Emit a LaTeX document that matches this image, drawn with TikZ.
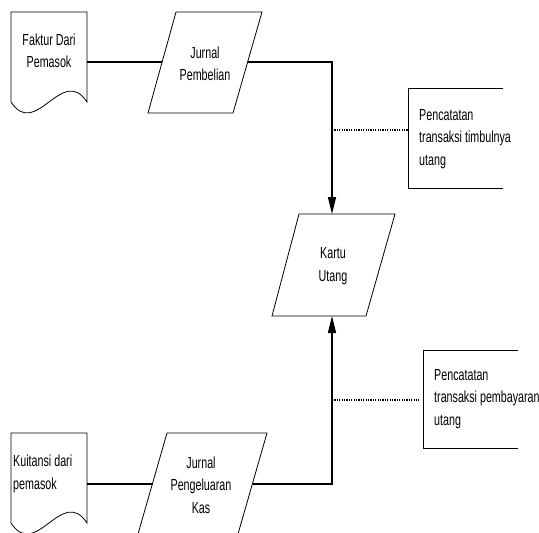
\documentclass[tikz,border=0pt]{standalone}
\usepackage{fontspec}
\setmainfont{Liberation Sans}[FakeStretch=0.67]
\usetikzlibrary{arrows.meta}
\tikzset{
  shapeline/.style={draw=black, line width=0.8pt},
  conn/.style={draw=black, line width=1.6pt},
  arrowconn/.style={conn, -{Triangle[length=17pt,width=8pt]}},
  dotline/.style={draw=black, line width=1.3pt, dash pattern=on 1.2pt off 1.2pt},
  bracket/.style={draw=black, line width=0.8pt},
  lbl/.style={inner sep=0pt, font=\fontsize{16}{22.5}\selectfont},
  docpic/.pic={
    \draw[shapeline, fill=white] (0,90) -- (0,0) -- (76,0) -- (76,90)
      .. controls (51,52) and (25,128) .. (0,90) -- cycle;
  }
}
\begin{document}
\begin{tikzpicture}[x=1pt,y=-1pt]
\useasboundingbox (0,0) rectangle (539,533);
\fill[white] (0,0) rectangle (539,533);
\clip (0,0) rectangle (539,533);

% documents
\pic at (11,12) {docpic};
\pic at (11,433) {docpic};
\node[lbl, align=center] (faktur) at (49,51) {Faktur Dari\\Pemasok};
\node[lbl, align=left, anchor=west] (kuitansi) at (13,474) {Kuitansi dari\\pemasok};
\coordinate (faktur-out) at (87,62);
\coordinate (kuitansi-out) at (87,484);

% parallelograms
\draw[shapeline] (176,12) -- (262,12) -- (233,113) -- (148,113) -- cycle;
\node[lbl, align=center] (jpemb) at (205,64) {Jurnal\\Pembelian};
\coordinate (jpemb-in) at (162,62);
\coordinate (jpemb-out) at (248,62);

\draw[shapeline] (299,214) -- (395,214) -- (366,316) -- (272,316) -- cycle;
\node[lbl, align=center] (kartu) at (333,266) {Kartu\\Utang};
\coordinate (kartu-top) at (332,214);
\coordinate (kartu-bot) at (332,316);

\draw[shapeline] (167,433) -- (267,433) -- (238,534) -- (138,534) -- cycle;
\node[lbl, align=center] (jpk) at (201,485) {Jurnal\\Pengeluaran\\Kas};
\coordinate (jpk-in) at (153,484);
\coordinate (jpk-out) at (253,484);

% connectors
\draw[conn] (faktur-out) -- (jpemb-in);
\draw[arrowconn] (jpemb-out) -| (kartu-top);
\draw[conn] (kuitansi-out) -- (jpk-in);
\draw[arrowconn] (jpk-out) -| (kartu-bot);

% annotations
\draw[bracket] (503,88) -- (408,88) -- (408,188) -- (503,188);
\node[lbl, align=left, anchor=west] (note1) at (419,139) {Pencatatan\\transaksi timbulnya\\utang};
\coordinate (d1a) at (332,130);
\coordinate (d1b) at (408,130);
\draw[dotline] (d1a) -- (d1b);

\draw[bracket] (518,350) -- (423,350) -- (423,448) -- (518,448);
\node[lbl, align=left, anchor=west] (note2) at (434,399) {Pencatatan\\transaksi pembayaran\\utang};
\coordinate (d2a) at (332,400);
\coordinate (d2b) at (419,400);
\draw[dotline] (d2a) -- (d2b);
\end{tikzpicture}
\end{document}
